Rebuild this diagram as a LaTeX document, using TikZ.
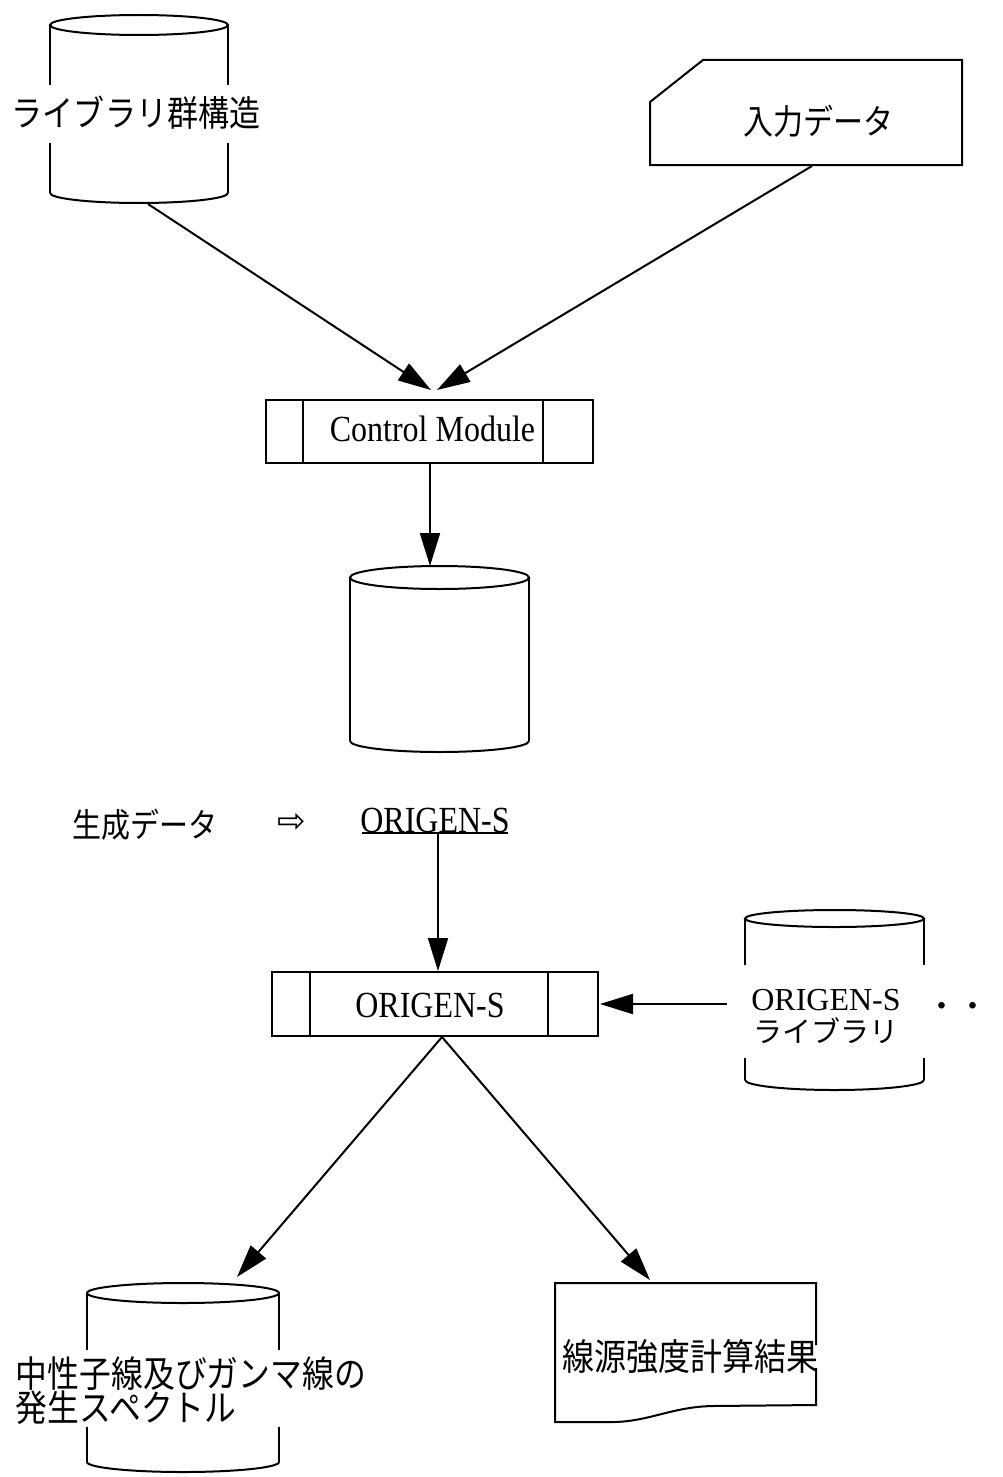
\documentclass[tikz,border=0pt]{standalone}
\usepackage{graphicx}
\usepackage{fontspec}
\setmainfont{Liberation Serif}
\newfontfamily\jpfont{Noto Sans CJK JP}
\newfontfamily\symfont{DejaVu Sans}
\usetikzlibrary{arrows.meta}
\newcommand\vstretch[1]{\scalebox{1}[1.15]{#1}}
\newcommand\libjp{\jpfont\fontsize{29}{32}\selectfont}
\begin{document}
\begin{tikzpicture}[x=1pt,y=-1pt,line width=2pt,
  conn/.style={line width=2pt,-{Triangle[length=33pt,width=20pt]}},
  jp/.style={inner sep=0pt,font=\jpfont\fontsize{#1}{#1}\selectfont},
  lat/.style={inner sep=0pt,font=\fontsize{32}{32}\selectfont},
  frame/.style={draw,line width=2pt,inner sep=0pt}]
\useasboundingbox (0,0) rectangle (1002,1477);

% ---- cylinder: library group structure
\node[inner sep=0pt,minimum width=178pt,minimum height=188pt] (cylA) at (139,109) {};
\draw (139,25) ellipse [x radius=89pt,y radius=10pt];
\draw (50,25) -- (50,85) (50,143) -- (50,193);
\draw (228,25) -- (228,85) (228,143) -- (228,193);
\draw (50,193) arc [start angle=180,end angle=360,x radius=89pt,y radius=10pt];
\node[jp=31] (tA) at (136,113) {\vstretch{ライブラリ群構造}};

% ---- card: input data
\node[inner sep=0pt,minimum width=312pt,minimum height=105pt] (card) at (806,112.5) {};
\draw (650,102) -- (703,60) -- (962,60) -- (962,165) -- (650,165) -- cycle;
\node[jp=30] (tB) at (818,121) {\vstretch{入力データ}};

% ---- Control Module
\node[frame,minimum width=327pt,minimum height=63pt] (cm) at (429.5,431.5) {};
\draw ([xshift=38pt]cm.north west) -- ([xshift=38pt]cm.south west);
\draw ([xshift=-51pt]cm.north east) -- ([xshift=-51pt]cm.south east);
\node[lat] (tcm) at (432.5,429) {\vstretch{Control Module}};

% ---- middle cylinder
\node[inner sep=0pt,minimum width=179pt,minimum height=186pt] (cylB) at (439.5,659) {};
\draw (439.5,577.5) ellipse [x radius=89.5pt,y radius=11.5pt];
\draw (350,577.5) -- (350,741) (529,577.5) -- (529,741);
\draw (350,741) arc [start angle=180,end angle=360,x radius=89.5pt,y radius=11pt];

% ---- generated data line
\node[jp=29] (tgen) at (145,825) {\vstretch{生成データ}};
\node[inner sep=0pt,font=\symfont\fontsize{34}{34}\selectfont] (tarr) at (292,823) {⇨};
\node[lat] (tos) at (435,820) {\vstretch{ORIGEN-S}};
\coordinate (osu) at (438,833);
\draw (362,833) -- (508,833);

% ---- ORIGEN-S module
\node[frame,minimum width=326pt,minimum height=64pt] (om) at (435,1004) {};
\draw ([xshift=39pt]om.north west) -- ([xshift=39pt]om.south west);
\draw ([xshift=-51pt]om.north east) -- ([xshift=-51pt]om.south east);
\node[lat] (tom) at (430,1005) {\vstretch{ORIGEN-S}};

% ---- ORIGEN-S library cylinder
\node[inner sep=0pt,minimum width=179pt,minimum height=180pt] (cylC) at (834.5,1000) {};
\draw (834.5,918.5) ellipse [x radius=89.5pt,y radius=8.5pt];
\draw (745,918.5) -- (745,965) (745,1058) -- (745,1080);
\draw (924,918.5) -- (924,965) (924,1058) -- (924,1080);
\draw (745,1080) arc [start angle=180,end angle=360,x radius=89.5pt,y radius=10pt];
\node[inner sep=0pt,align=center,font=\fontsize{32}{32}\selectfont]
  (tlib) at (826,1016) {ORIGEN-S\\ \libjp ライブラリ};
\node[jp=31] (tdots) at (957,1010) {・・};

% ---- spectrum cylinder
\node[inner sep=0pt,minimum width=192pt,minimum height=189pt] (cylD) at (183,1377.5) {};
\draw (183,1293) ellipse [x radius=96pt,y radius=10pt];
\draw (87,1293) -- (87,1350) (87,1427) -- (87,1462);
\draw (279,1293) -- (279,1350) (279,1427) -- (279,1462);
\draw (87,1462) arc [start angle=180,end angle=360,x radius=96pt,y radius=10pt];
\node[jp=31.8,anchor=west] (tsp1) at (15,1374) {\vstretch{中性子線及びガンマ線の}};
\node[jp=31.8,anchor=west] (tsp2) at (15,1408) {\vstretch{発生スペクトル}};

% ---- document: source strength result
\node[inner sep=0pt,minimum width=261pt,minimum height=139pt] (doc) at (685.5,1352.5) {};
\draw (816,1345) -- (816,1283) -- (555,1283) -- (555,1422) -- (615,1422)
  .. controls (650,1421) and (672,1407) .. (712,1406) -- (816,1405) -- (816,1368);
\node[jp=32] (tdoc) at (690,1357) {\vstretch{線源強度計算結果}};

% ---- connector end points
\coordinate (a1s) at (148,204);
\coordinate (a1e) at (431,390);
\coordinate (a2s) at (812,166);
\coordinate (a2e) at (437,390);
\coordinate (a3s) at (430,464);
\coordinate (a3e) at (430,566);
\coordinate (a4e) at (438,971);
\coordinate (a5s) at (727,1004);
\coordinate (a5e) at (600,1004);
\coordinate (a6s) at (442,1037);
\coordinate (a6e) at (237,1277);
\coordinate (a7e) at (650,1280);

\draw[conn] (a1s) -- (a1e);
\draw[conn] (a2s) -- (a2e);
\draw[conn] (a3s) -- (a3e);
\draw[conn] (osu) -- (a4e);
\draw[conn] (a5s) -- (a5e);
\draw[conn] (a6s) -- (a6e);
\draw[conn] (a6s) -- (a7e);
\end{tikzpicture}
\end{document}
